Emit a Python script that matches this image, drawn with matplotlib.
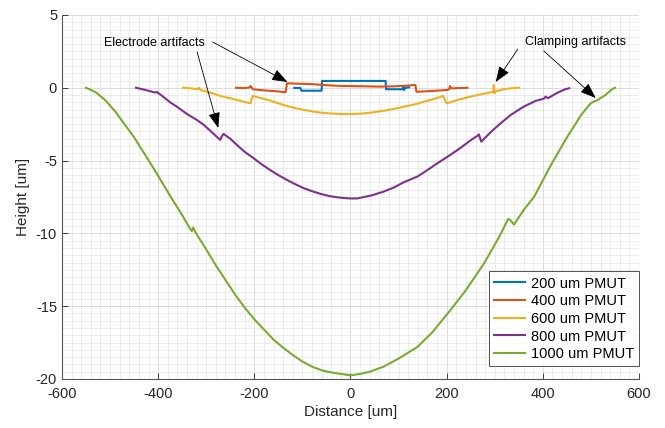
import matplotlib
matplotlib.use("Agg")
import matplotlib.pyplot as plt
from matplotlib.ticker import MultipleLocator

plt.rcParams['font.family'] = ['Liberation Sans', 'DejaVu Sans']
plt.rcParams['axes.unicode_minus'] = False

# perfis medidos (Distance [um], Height [um])
x200 = [-117, -104, -102, -80, -60, -59, -58, -20, 0, 30, 60, 73, 74, 90, 108, 110, 111, 113, 118, 122]
y200 = [-0.01, -0.01, -0.2, -0.2, -0.2, 0.47, 0.47, 0.47, 0.47, 0.47, 0.47, 0.47, -0.1, -0.1, -0.1, 0.12, -0.15, -0.05, 0.02, 0.03]

x400 = [-238, -220, -210, -208, -203, -190, -170, -150, -135, -133, -132, -110, -90, -76, -50, -30, -7,
        30, 62, 90, 115, 132, 135, 137, 140, 170, 201, 205, 207, 210, 225, 243]
y400 = [0.0, -0.02, 0.02, 0.12, -0.1, -0.15, -0.2, -0.25, -0.31, 0.1, 0.31, 0.28, 0.26, 0.24, 0.18, 0.14, 0.12,
        0.1, 0.08, 0.1, 0.14, 0.19, 0.19, -0.27, -0.27, -0.22, -0.15, -0.1, 0.12, -0.04, -0.02, 0.0]

x600 = [-348, -330, -318, -315, -312, -290, -271, -250, -236, -220, -208, -206, -203, -185, -167, -150, -132, -115,
        -97, -80, -62, -40, -20, 0, 20, 42, 69, 90, 111, 130, 146, 170, 193, 196, 200, 222, 245, 264, 285,
        297, 298, 299, 301, 319, 335, 351]
y600 = [0.0, -0.05, -0.1, 0.0, -0.15, -0.35, -0.56, -0.72, -0.84, -0.97, -1.07, -0.8, -0.56, -0.72, -0.88, -1.07,
        -1.25, -1.4, -1.52, -1.62, -1.71, -1.77, -1.8, -1.8, -1.78, -1.71, -1.58, -1.45, -1.3, -1.17, -1.02, -0.8,
        -0.56, -0.8, -1.07, -0.84, -0.65, -0.5, -0.36, -0.27, 0.19, -0.38, -0.25, -0.1, -0.03, 0.0]

x800 = [-446, -430, -415, -406, -403, -390, -375, -361, -340, -320, -305, -290, -271, -267, -264, -250, -236, -220,
        -201, -185, -167, -150, -132, -115, -97, -80, -62, -45, -28, -10, 0, 14, 28, 45, 69, 90, 110, 139, 160,
        180, 208, 230, 250, 264, 267, 272, 290, 310, 333, 360, 385, 402, 406, 410, 430, 445, 455]
y800 = [0.0, -0.12, -0.25, -0.33, -0.28, -0.6, -1.0, -1.3, -1.8, -2.2, -2.55, -3.0, -3.58, -3.3, -3.17, -3.5,
        -3.93, -4.4, -4.85, -5.25, -5.65, -6.0, -6.33, -6.62, -6.9, -7.1, -7.29, -7.43, -7.52, -7.58, -7.6, -7.6,
        -7.5, -7.38, -7.13, -6.85, -6.5, -6.1, -5.65, -5.2, -4.6, -4.1, -3.6, -3.3, -3.2, -3.7, -3.1, -2.5, -1.87,
        -1.3, -0.9, -0.75, -0.6, -0.72, -0.35, -0.12, -0.03]

x1000 = [-550, -530, -510, -490, -470, -450, -430, -410, -390, -370, -350, -335, -330, -327, -322, -300, -280,
         -260, -240, -220, -200, -180, -160, -140, -120, -100, -80, -60, -40, -20, 0, 20, 40, 69, 100, 139, 170,
         208, 240, 278, 310, 328, 333, 340, 360, 382, 417, 451, 480, 500, 508, 512, 530, 542, 550]
y1000 = [0.0, -0.3, -0.85, -1.6, -2.5, -3.4, -4.45, -5.5, -6.6, -7.7, -8.75, -9.6, -9.85, -9.6, -9.95, -11.1,
         -12.2, -13.2, -14.2, -15.1, -15.9, -16.6, -17.3, -17.85, -18.35, -18.8, -19.15, -19.4, -19.55, -19.65,
         -19.75, -19.65, -19.5, -19.15, -18.6, -17.8, -16.8, -15.26, -13.9, -12.05, -10.2, -9.0, -9.1, -9.4, -8.4,
         -7.48, -5.3, -3.36, -1.85, -1.05, -0.92, -0.88, -0.5, -0.15, 0.0]

labels = ['200 um PMUT', '400 um PMUT', '600 um PMUT', '800 um PMUT', '1000 um PMUT']
cores = ['#0072BD', '#D95319', '#EDB120', '#7E2F8E', '#77AC30']

fig = plt.figure(figsize=(6.65, 4.28), dpi=100)
ax = fig.add_axes([0.0932, 0.1145, 0.8677, 0.8505])

series = [(x200, y200), (x400, y400), (x600, y600), (x800, y800), (x1000, y1000)]
for (xs, ys), lab, c in zip(series, labels, cores):
    ax.plot(xs, ys, color=c, lw=1.5, label=lab)

ax.set_xlim(-600, 600)
ax.set_ylim(-20, 5)
ax.xaxis.set_major_locator(MultipleLocator(200))
ax.xaxis.set_minor_locator(MultipleLocator(20))
ax.yaxis.set_major_locator(MultipleLocator(5))
ax.yaxis.set_minor_locator(MultipleLocator(0.5))
ax.grid(which='major', color='#d6d6d6', lw=0.6)
ax.grid(which='minor', color='#e4e4e4', lw=0.5)
ax.set_axisbelow(True)
ax.tick_params(which='major', direction='in', length=4, labelsize=10.5, colors='#262626', width=0.6)
ax.tick_params(axis='x', which='major', pad=6)
ax.tick_params(which='minor', length=0)
for s in ['top', 'right']:
    ax.spines[s].set_visible(False)
for s in ['left', 'bottom']:
    ax.spines[s].set_color('#555555')
    ax.spines[s].set_linewidth(0.8)

ax.set_xlabel('Distance [um]', fontsize=11, color='#262626', labelpad=3)
ax.set_ylabel('Height [um]', fontsize=11, color='#262626')

leg = ax.legend(loc='lower right', bbox_to_anchor=(1.0, 0.035), borderaxespad=0, fancybox=False,
                fontsize=10.5, handlelength=2.1, handletextpad=0.4, labelspacing=0.25, borderpad=0.35)
leg.get_frame().set_edgecolor('#262626')
leg.get_frame().set_linewidth(0.7)

# setas das anotacoes
seta = dict(arrowstyle='-|>,head_length=0.8,head_width=0.3', mutation_scale=12, lw=0.6, color='k',
            shrinkA=0, shrinkB=0)
ax.text(-407, 3.08, 'Electrode artifacts', fontsize=9, ha='center', va='center')
ax.annotate('', xy=(-131, 0.4), xytext=(-287, 3.15), arrowprops=seta)
ax.annotate('', xy=(-275, -2.76), xytext=(-319, 2.46), arrowprops=seta)
ax.text(468, 3.15, 'Clamping artifacts', fontsize=9, ha='center', va='center')
ax.annotate('', xy=(302, 0.4), xytext=(348, 2.66), arrowprops=seta)
ax.annotate('', xy=(510, -0.7), xytext=(402, 2.53), arrowprops=seta)

plt.savefig('out.png', dpi=100)
